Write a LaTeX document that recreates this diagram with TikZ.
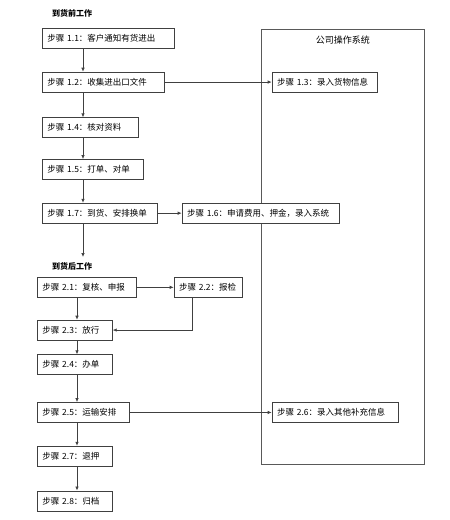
\documentclass[tikz,border=0pt]{standalone}
\usepackage{fontspec}
\setmainfont{Noto Sans CJK SC}
\usetikzlibrary{positioning,arrows.meta}

\begin{document}
\begin{tikzpicture}[x=1pt, y=1pt, node distance=23pt,
        >={Latex[length=4pt,width=3.5pt]},
        stepbox/.style={draw=black!75, fill=white, line width=0.7pt,
            font=\fontsize{8.5}{10}\selectfont, minimum height=20pt,
            inner xsep=5pt, inner ysep=2pt, align=left},
        part/.style={font=\fontsize{8}{9}\selectfont\bfseries, inner sep=0pt, anchor=west},
        flow/.style={->, draw=black!75, line width=0.7pt}]
        \useasboundingbox (0,0) rectangle (450,-520);

        % System
        \node[draw=black!65, line width=0.8pt, minimum width=163pt, minimum height=435pt,
            anchor=north west] (sys) at (261,-29) {};
        \node[font=\fontsize{9}{10}\selectfont, anchor=north] (systitle) at ([yshift=-3pt]sys.north) {公司操作系统};

        % Nodes
        \node[stepbox, text width=122pt, anchor=north west] (n11) at (42,-28) {步骤~1.1：客户通知有货进出};
        \node[stepbox, text width=112pt, below=of n11.south west, anchor=north west] (n12) {步骤~1.2：收集进出口文件};
        \node[stepbox, text width=86pt, below=25pt of n12.south west, anchor=north west] (n14) {步骤~1.4：核对资料};
        \node[stepbox, text width=91pt, below=21pt of n14.south west, anchor=north west] (n15) {步骤~1.5：打单、对单};
        \node[stepbox, text width=105pt, below=of n15.south west, anchor=north west] (n17) {步骤~1.7：到货、安排换单};
        \node[stepbox, text width=147pt, right=24pt of n17] (n16) {步骤~1.6：申请费用、押金，录入系统};
        \node[stepbox, text width=95pt, right=107pt of n12] (n13) {步骤~1.3：录入货物信息};

        \node[stepbox, text width=89pt, anchor=north west] (n21) at (37,-277) {步骤~2.1：复核、申报};
        \node[stepbox, text width=58pt, right=37pt of n21] (n22) {步骤~2.2：报检};
        \node[stepbox, text width=65pt, below=22pt of n21.south west, anchor=north west] (n23) {步骤~2.3：放行};
        \node[stepbox, text width=65pt, below=14pt of n23.south west, anchor=north west] (n24) {步骤~2.4：办单};
        \node[stepbox, text width=82pt, below=27pt of n24.south west, anchor=north west] (n25) {步骤~2.5：运输安排};
        \node[stepbox, text width=65pt, below=of n25.south west, anchor=north west] (n27) {步骤~2.7：退押};
        \node[stepbox, text width=65pt, below=24pt of n27.south west, anchor=north west] (n28) {步骤~2.8：归档};
        \node[stepbox, text width=116pt, right=142pt of n25] (n26) {步骤~2.6：录入其他补充信息};

        \node[part] (pre) at ([xshift=10pt,yshift=15pt]n11.north west) {到货前工作};
        \node[part] (post) at ([xshift=15pt,yshift=11pt]n21.north west) {到货后工作};

        % Arrows
        \coordinate (topx) at (83,0);
        \coordinate (botx) at (77,0);
        \coordinate (gap) at (83,-257);
        \draw[flow] (n11.south -| topx) -- (n12.north -| topx);
        \draw[flow] (n12.south -| topx) -- (n14.north -| topx);
        \draw[flow] (n14.south -| topx) -- (n15.north -| topx);
        \draw[flow] (n15.south -| topx) -- (n17.north -| topx);
        \draw[flow] (n17.south -| topx) -- (gap);
        \draw[flow] (n12) -- (n13);
        \draw[flow] (n17) -- (n16);

        \draw[flow] (n21) -- (n22);
        \draw[flow] (n21.south -| botx) -- (n23.north -| botx);
        \draw[flow] ([xshift=-16pt]n22.south) |- (n23);
        \draw[flow] (n23.south -| botx) -- (n24.north -| botx);
        \draw[flow] (n24.south -| botx) -- (n25.north -| botx);
        \draw[flow] (n25.south -| botx) -- (n27.north -| botx);
        \draw[flow] (n27.south -| botx) -- (n28.north -| botx);
        \draw[flow] (n25) -- (n26);
\end{tikzpicture}
\end{document}
